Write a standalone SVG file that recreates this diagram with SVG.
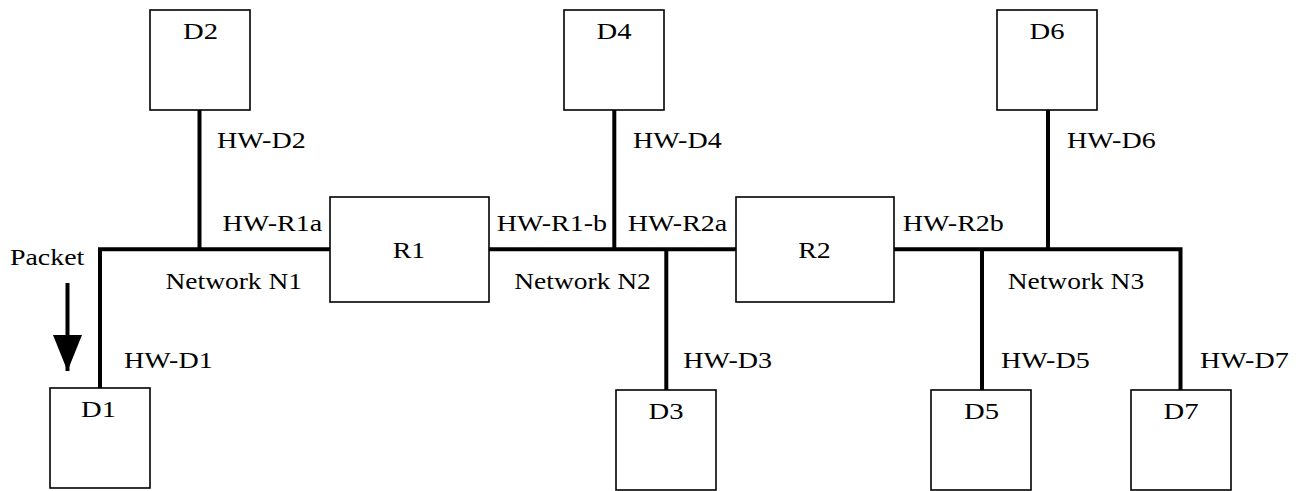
<svg xmlns="http://www.w3.org/2000/svg" width="1300" height="491" viewBox="0 0 1300 491">
  <style>
    .box { fill: #ffffff; stroke: #000000; stroke-width: 1.6; }
    .wire { fill: none; stroke: #000000; stroke-width: 4; stroke-linejoin: miter; stroke-linecap: butt; }
    text { font-family: "Liberation Serif", "Times New Roman", Times, serif; font-size: 23px; fill: #000000; }
    .mid { text-anchor: middle; }
  </style>
  <defs>
    <marker id="arrowhead" markerUnits="userSpaceOnUse" viewBox="0 0 36 29" markerWidth="36" markerHeight="29" refX="36" refY="14.5" orient="auto">
      <path d="M0,0 L36,14.5 L0,29 Z" fill="#000000"/>
    </marker>
  </defs>
  <rect width="1300" height="491" fill="#ffffff"/>

  <g id="connectors">
    <!-- Network N1 -->
    <polyline class="wire" points="100,388 100,249.3 330,249.3"/>
    <line class="wire" x1="199.5" y1="110" x2="199.5" y2="249.3"/>
    <!-- Network N2 -->
    <line class="wire" x1="489" y1="249.3" x2="736" y2="249.3"/>
    <line class="wire" x1="614.3" y1="110" x2="614.3" y2="249.3"/>
    <line class="wire" x1="666.3" y1="249.3" x2="666.3" y2="390"/>
    <!-- Network N3 -->
    <polyline class="wire" points="894,249.3 1180.5,249.3 1180.5,390"/>
    <line class="wire" x1="1048" y1="110" x2="1048" y2="249.3"/>
    <line class="wire" x1="982" y1="249.3" x2="982" y2="390"/>
    <!-- Packet arrow -->
    <line class="wire" x1="67.5" y1="283" x2="67.5" y2="371" marker-end="url(#arrowhead)"/>
  </g>

  <g id="D2"><rect class="box" x="150" y="10" width="100" height="100"/><text class="mid" x="200.5" y="38.5" textLength="35" lengthAdjust="spacingAndGlyphs">D2</text></g>
  <g id="D4"><rect class="box" x="564" y="10" width="100" height="100"/><text class="mid" x="614" y="38.5" textLength="35" lengthAdjust="spacingAndGlyphs">D4</text></g>
  <g id="D6"><rect class="box" x="997" y="10" width="100" height="100"/><text class="mid" x="1047" y="38.5" textLength="35" lengthAdjust="spacingAndGlyphs">D6</text></g>
  <g id="D1"><rect class="box" x="50" y="388" width="100" height="100"/><text class="mid" x="98.5" y="417" textLength="35" lengthAdjust="spacingAndGlyphs">D1</text></g>
  <g id="D3"><rect class="box" x="616" y="390" width="100" height="100"/><text class="mid" x="666" y="418.5" textLength="35" lengthAdjust="spacingAndGlyphs">D3</text></g>
  <g id="D5"><rect class="box" x="931" y="390" width="100" height="100"/><text class="mid" x="981.5" y="418.5" textLength="35" lengthAdjust="spacingAndGlyphs">D5</text></g>
  <g id="D7"><rect class="box" x="1131" y="390" width="100" height="100"/><text class="mid" x="1181" y="418.5" textLength="35" lengthAdjust="spacingAndGlyphs">D7</text></g>
  <g id="R1"><rect class="box" x="330" y="197" width="159" height="105"/><text class="mid" x="409" y="258" textLength="32.5" lengthAdjust="spacingAndGlyphs">R1</text></g>
  <g id="R2"><rect class="box" x="736" y="197" width="158" height="105"/><text class="mid" x="814.5" y="258" textLength="32.5" lengthAdjust="spacingAndGlyphs">R2</text></g>

  <g id="labels">
    <text x="217" y="148" textLength="88.7" lengthAdjust="spacingAndGlyphs">HW-D2</text>
    <text x="633" y="148" textLength="88.7" lengthAdjust="spacingAndGlyphs">HW-D4</text>
    <text x="1067" y="148" textLength="88.7" lengthAdjust="spacingAndGlyphs">HW-D6</text>
    <text x="222.5" y="231" textLength="99.6" lengthAdjust="spacingAndGlyphs">HW-R1a</text>
    <text x="496.7" y="231" textLength="110.4" lengthAdjust="spacingAndGlyphs">HW-R1-b</text>
    <text x="627.7" y="231" textLength="99.6" lengthAdjust="spacingAndGlyphs">HW-R2a</text>
    <text x="902.7" y="231" textLength="101.2" lengthAdjust="spacingAndGlyphs">HW-R2b</text>
    <text x="10" y="265" textLength="74.3" lengthAdjust="spacingAndGlyphs">Packet</text>
    <text x="165.5" y="289" textLength="136.5" lengthAdjust="spacingAndGlyphs">Network N1</text>
    <text x="514.3" y="289" textLength="136.5" lengthAdjust="spacingAndGlyphs">Network N2</text>
    <text x="1007.7" y="289" textLength="136.5" lengthAdjust="spacingAndGlyphs">Network N3</text>
    <text x="124" y="368" textLength="88.7" lengthAdjust="spacingAndGlyphs">HW-D1</text>
    <text x="683.3" y="368" textLength="88.7" lengthAdjust="spacingAndGlyphs">HW-D3</text>
    <text x="1001" y="368" textLength="88.7" lengthAdjust="spacingAndGlyphs">HW-D5</text>
    <text x="1200" y="368" textLength="88.7" lengthAdjust="spacingAndGlyphs">HW-D7</text>
  </g>
</svg>
